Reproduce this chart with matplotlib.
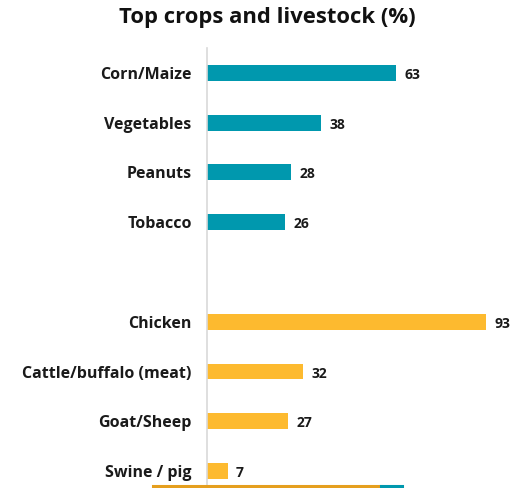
import matplotlib
matplotlib.use("Agg")
import matplotlib.pyplot as plt
from matplotlib.lines import Line2D

plt.rcParams['font.family'] = ['Open Sans', 'DejaVu Sans']

crops = ["Corn/Maize", "Vegetables", "Peanuts", "Tobacco"]
crop_values = [63, 38, 28, 26]
livestock = ["Chicken", "Cattle/buffalo (meat)", "Goat/Sheep", "Swine / pig"]
livestock_values = [93, 32, 27, 7]

TEAL = "#0098AE"
YELLOW = "#FDBA2F"

fig = plt.figure(figsize=(5.18, 4.88), dpi=100)
W, H = 518, 488
# axes box in pixels: left edge at the value axis, top above first bar
left, top, right, bottom = 207, 48, 507, 488
ax = fig.add_axes([left / W, (H - bottom) / H, (right - left) / W, (bottom - top) / H])

# crops in slots 0..3, blank slot 4, livestock in slots 5..8
crop_pos = list(range(len(crops)))
live_pos = [p + len(crops) + 1 for p in range(len(livestock))]

ax.barh(crop_pos, crop_values, height=0.32, color=TEAL)
ax.barh(live_pos, livestock_values, height=0.32, color=YELLOW)

for p, v in zip(crop_pos + live_pos, crop_values + livestock_values):
    ax.text(v + 2.7, p + 0.04, str(v), va="center", ha="left",
            fontsize=10, fontweight="bold", color="#1a1a1a")

ax.set_xlim(0, 100)
ax.set_ylim(8.34, -0.5)
ax.set_yticks(crop_pos + live_pos)
ax.set_yticklabels(crops + livestock, fontsize=11.5, fontweight="bold", color="#1a1a1a")
ax.tick_params(axis="y", length=0, pad=11)
ax.set_xticks([])
for s in ["top", "right", "bottom"]:
    ax.spines[s].set_visible(False)
ax.spines["left"].set_color("#d9d9d9")
ax.spines["left"].set_linewidth(1.2)

fig.text(267 / W, 1 - 18 / H, "Top crops and livestock (%)", ha="center", va="center",
         fontsize=15.8, fontweight="bold", color="#111111")

# decorative rule along the bottom edge
fig.add_artist(Line2D([153 / W, 381 / W], [2.5 / H, 2.5 / H], color="#E59F1E", linewidth=2.2))
fig.add_artist(Line2D([381 / W, 402 / W], [2.5 / H, 2.5 / H], color="#0098AE", linewidth=2.2))

fig.savefig("out.png", dpi=100)
